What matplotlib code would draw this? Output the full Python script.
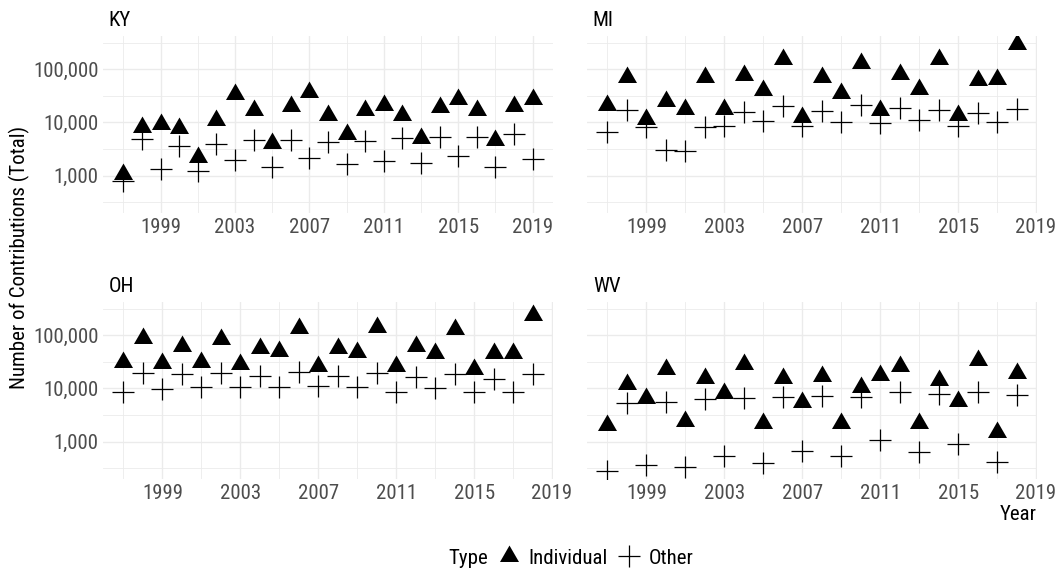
import numpy as np
import matplotlib
matplotlib.use('Agg')
import matplotlib.pyplot as plt
from matplotlib.lines import Line2D
from matplotlib.ticker import FuncFormatter

plt.rcParams['font.family'] = ['Roboto Condensed', 'Liberation Sans', 'DejaVu Sans']

# Contribuicoes por ano, individual x outras
years_ky = list(range(1997, 2020))
years = list(range(1997, 2019))

ky_ind = [1050, 8050, 9400, 7700, 2240, 10900, 34000, 16800, 4100, 20500, 36500, 13900,
          6130, 17300, 21500, 13900, 5080, 19100, 27800, 16800, 4670, 20500, 27500]
ky_oth = [780, 4800, 1315, 3650, 1190, 3930, 1970, 4670, 1430, 4670, 2110, 4200,
          1630, 4530, 1910, 5160, 1700, 5370, 2340, 5250, 1475, 5960, 2050]

mi_ind = [20800, 71800, 11700, 25100, 18000, 71800, 17800, 78300, 41000, 158000, 12600,
          70800, 36000, 131000, 16800, 82800, 41600, 152000, 13700, 62200, 64000, 303000]
mi_oth = [6500, 17000, 8060, 3030, 2950, 8300, 8500, 15400, 10800, 20200, 8660,
          16300, 10000, 21100, 9860, 18300, 11000, 17000, 8500, 14800, 10300, 17500]

oh_ind = [30700, 89000, 30300, 62200, 31600, 83000, 28600, 56200, 50800, 137000, 26600,
          57900, 48000, 143000, 25800, 62200, 46000, 133000, 23400, 46000, 46000, 244000]
oh_oth = [8660, 19100, 9700, 18600, 10400, 19100, 10400, 17000, 10400, 20500, 11000,
          17000, 10400, 19700, 8660, 16600, 10000, 18300, 8660, 15000, 8660, 18300]

wv_ind = [2050, 12200, 6500, 22700, 2480, 15800, 8300, 29000, 2270, 15400, 5540,
          17000, 2270, 10400, 17500, 26200, 2270, 14300, 5700, 33500, 1540, 19700]
wv_oth = [282, 5250, 355, 5620, 330, 6220, 525, 6680, 392, 6800, 650,
          7180, 537, 7000, 1080, 8400, 630, 7720, 905, 8400, 410, 7500]

states = ['KY', 'MI', 'OH', 'WV']
x_by_state = {'KY': years_ky, 'MI': years, 'OH': years, 'WV': years}
ind_by_state = {'KY': ky_ind, 'MI': mi_ind, 'OH': oh_ind, 'WV': wv_ind}
oth_by_state = {'KY': ky_oth, 'MI': mi_oth, 'OH': oh_oth, 'WV': wv_oth}

# triangulo estilo R (centro no baricentro)
tri = [(0, 1.555), (1.347, -0.778), (-1.347, -0.778), (0, 1.555)]

allv = np.log10(ky_ind + ky_oth + mi_ind + mi_oth + oh_ind + oh_oth + wv_ind + wv_oth)
lo, hi = allv.min(), allv.max()
pad = (hi - lo) * 0.05
ylim = (10 ** (lo - pad), 10 ** (hi + pad))

W, H = 1060, 573
fig = plt.figure(figsize=(W / 100, H / 100), dpi=100)

boxes = {
    'KY': (103, 35.5), 'MI': (587, 35.5),
    'OH': (103, 301.5), 'WV': (587, 301.5),
}
pw, ph = 450, 177.3
grey = '#4D4D4D'
fs = 15

for st in states:
    px, py = boxes[st]
    ax = fig.add_axes([px / W, 1 - (py + ph) / H, pw / W, ph / H])
    xs = x_by_state[st]
    ax.scatter(xs, ind_by_state[st], marker=tri, s=250, color='black', linewidths=0, zorder=3)
    ax.scatter(xs, oth_by_state[st], marker='+', s=250, color='black', linewidths=0.9, zorder=3)
    ax.set_yscale('log')
    ax.set_ylim(ylim)
    xr = (max(xs) - min(xs)) * 0.05
    ax.set_xlim(min(xs) - xr, max(xs) + xr)
    ax.set_xticks(range(1999, 2020, 4))
    ax.set_xticks(range(1997, 2020, 4), minor=True)
    ax.set_yticks([1e3, 1e4, 1e5])
    ax.set_yticks([10 ** 2.5, 10 ** 3.5, 10 ** 4.5, 10 ** 5.5], minor=True)
    ax.yaxis.set_minor_formatter(FuncFormatter(lambda v, p: ''))
    if st in ('KY', 'OH'):
        ax.yaxis.set_major_formatter(FuncFormatter(lambda v, p: f'{int(round(v)):,}'))
    else:
        ax.set_yticklabels([])
    ax.grid(which='major', color='#EBEBEB', lw=1.0)
    ax.grid(which='minor', color='#EBEBEB', lw=0.6)
    ax.set_axisbelow(True)
    ax.tick_params(which='both', length=0, labelsize=fs, labelcolor=grey)
    ax.tick_params(axis='x', pad=4)
    ax.tick_params(axis='y', pad=3)
    for s in ax.spines.values():
        s.set_visible(False)
    ax.text(0.013, 1.0 + 15.5 / ph, st, transform=ax.transAxes, fontsize=fs,
            ha='left', va='center', color='black')

fig.text(19 / W, 1 - 257 / H, 'Number of Contributions (Total)', rotation=90,
         fontsize=fs, ha='center', va='center')
fig.text(1037 / W, 1 - 515 / H, 'Year', fontsize=fs, ha='right', va='center')

# legenda
fig.text(448 / W, 1 - 558 / H, 'Type', fontsize=fs, ha='left', va='center')
handles = [Line2D([], [], ls='none', marker=tri, ms=15.8, color='black', mew=0),
           Line2D([], [], ls='none', marker='+', ms=15.8, color='black', mew=0.9)]
fig.legend(handles, ['Individual', 'Other'], loc='center left',
           bbox_to_anchor=(498.6 / W, 1 - 558 / H), ncol=2, frameon=False,
           fontsize=fs, borderpad=0, borderaxespad=0, handlelength=1.0,
           handletextpad=0.41, columnspacing=0.56)

fig.savefig('out.png', dpi=100, facecolor='white')
